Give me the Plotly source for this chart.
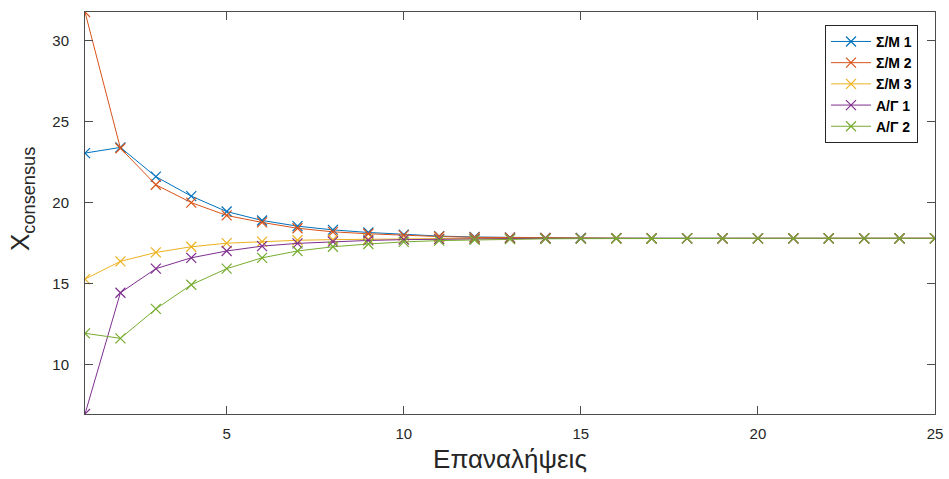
import plotly.graph_objects as go

iterations = list(range(1, 26))

sm1 = [23.05, 23.40, 21.60, 20.40, 19.45, 18.90, 18.55, 18.32, 18.16, 18.03, 17.94, 17.88, 17.85,
       17.83, 17.82, 17.81, 17.80, 17.80, 17.80, 17.80, 17.80, 17.80, 17.80, 17.80, 17.80]
sm2 = [31.74, 23.35, 21.10, 20.00, 19.21, 18.78, 18.42, 18.20, 18.08, 17.98, 17.91, 17.86, 17.84,
       17.82, 17.81, 17.81, 17.80, 17.80, 17.80, 17.80, 17.80, 17.80, 17.80, 17.80, 17.80]
sm3 = [15.29, 16.38, 16.93, 17.28, 17.50, 17.60, 17.68, 17.72, 17.75, 17.77, 17.78, 17.79, 17.79,
       17.80, 17.80, 17.80, 17.80, 17.80, 17.80, 17.80, 17.80, 17.80, 17.80, 17.80, 17.80]
ag1 = [6.98, 14.45, 15.93, 16.60, 17.02, 17.32, 17.49, 17.60, 17.67, 17.72, 17.75, 17.77, 17.78,
       17.79, 17.79, 17.80, 17.80, 17.80, 17.80, 17.80, 17.80, 17.80, 17.80, 17.80, 17.80]
ag2 = [11.95, 11.64, 13.45, 14.94, 15.93, 16.60, 17.02, 17.28, 17.45, 17.58, 17.66, 17.71, 17.75,
       17.77, 17.78, 17.79, 17.79, 17.80, 17.80, 17.80, 17.80, 17.80, 17.80, 17.80, 17.80]

series_names = ["Σ/Μ 1", "Σ/Μ 2", "Σ/Μ 3", "Α/Γ 1", "Α/Γ 2"]
series_values = [sm1, sm2, sm3, ag1, ag2]
colors = ["#0072BD", "#D95319", "#EDB120", "#7E2F8E", "#77AC30"]

x_title = "Επαναλήψεις"
y_title = "X<sub>consensus</sub>"

fig = go.Figure()
for name, vals, col in zip(series_names, series_values, colors):
    fig.add_trace(go.Scatter(
        x=iterations, y=vals, name=name, mode="lines+markers",
        line=dict(color=col, width=1),
        marker=dict(symbol="x-thin", size=10, color=col, line=dict(color=col, width=1.2)),
    ))

all_vals = [v for s in series_values for v in s]
axis_col = "#4d4d4d"
font_fam = "Liberation Sans, Arial, sans-serif"
tick_font = dict(family=font_fam, size=15, color="#262626")

fig.update_layout(
    width=949, height=479,
    margin=dict(l=85, r=14, t=12, b=65),
    paper_bgcolor="white", plot_bgcolor="white",
    showlegend=True,
    legend=dict(
        x=0.98, y=0.968, xanchor="right", yanchor="top",
        bgcolor="white", bordercolor="#262626", borderwidth=1,
        font=dict(family=font_fam, size=14, color="#000000", weight="bold"),
        tracegroupgap=0, itemwidth=40,
    ),
    xaxis=dict(
        range=[1, 25], tick0=0, dtick=5, automargin=False,
        showgrid=False, zeroline=False,
        showline=True, linecolor=axis_col, linewidth=1, mirror="ticks",
        ticks="inside", ticklen=8, tickcolor=axis_col, tickwidth=1,
        tickfont=tick_font, ticklabelstandoff=6,
        title=dict(text=x_title, font=dict(family=font_fam, size=26, color="#262626"),
                   standoff=8),
    ),
    yaxis=dict(
        range=[min(all_vals), max(all_vals)], tick0=0, dtick=5, automargin=False,
        showgrid=False, zeroline=False,
        showline=True, linecolor=axis_col, linewidth=1, mirror="ticks",
        ticks="inside", ticklen=8, tickcolor=axis_col, tickwidth=1,
        tickfont=tick_font, ticklabelstandoff=12,
    ),
    annotations=[dict(
        text=y_title, textangle=-90, showarrow=False,
        xref="paper", yref="paper", x=-0.074, y=0.535,
        xanchor="center", yanchor="middle",
        font=dict(family=font_fam, size=26, color="#262626"),
    )],
)

fig.write_html("out.html")
